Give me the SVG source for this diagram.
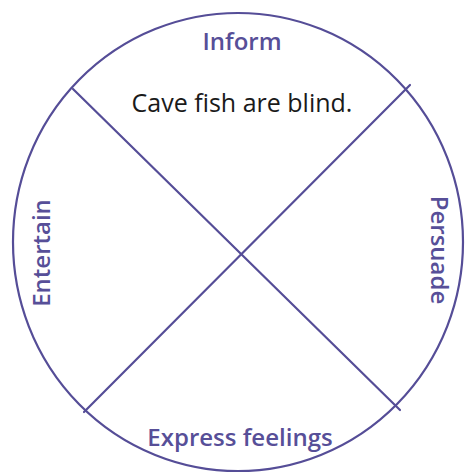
<svg xmlns="http://www.w3.org/2000/svg" width="468" height="475" viewBox="0 0 468 475">
<style>
.ln{stroke:#554d97;stroke-width:2.2;fill:none;stroke-linecap:round}
.lbl{font-family:"Open Sans","Liberation Sans",sans-serif;font-weight:600;fill:#574f98;font-size:24px;text-anchor:middle}
.txt{font-family:"Open Sans","Liberation Sans",sans-serif;fill:#1a1a1a;font-size:25px;text-anchor:middle}
</style>
<rect width="468" height="475" fill="#fff"/>
<g id="connectors">
<ellipse class="ln" cx="238" cy="242" rx="225" ry="229"/>
<line class="ln" x1="73" y1="89" x2="400" y2="410"/>
<line class="ln" x1="410" y1="85" x2="84" y2="412"/>
</g>
<g id="inform"><text class="lbl" x="242" y="50">Inform</text></g>
<g id="statement"><text class="txt" x="242" y="112">Cave fish are blind.</text></g>
<g id="entertain"><text class="lbl" transform="translate(50,253) rotate(-90)">Entertain</text></g>
<g id="persuade"><text class="lbl" transform="translate(431,250) rotate(90)">Persuade</text></g>
<g id="express"><text class="lbl" x="240" y="446">Express feelings</text></g>
</svg>
